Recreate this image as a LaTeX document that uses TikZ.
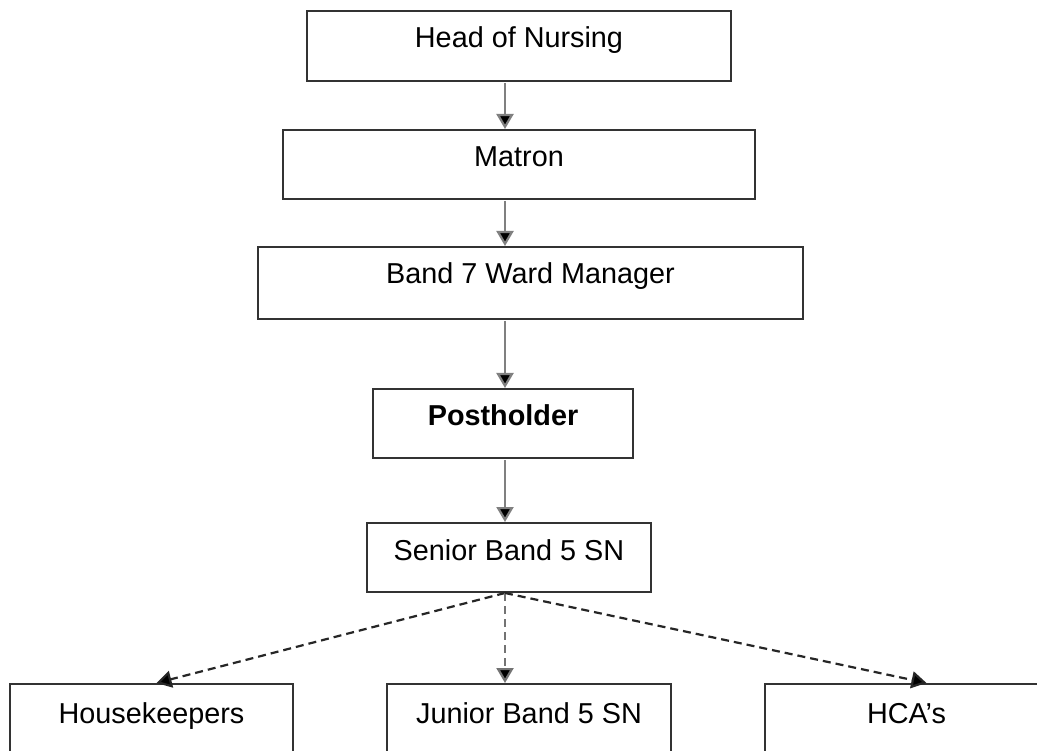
\documentclass[tikz,border=0pt]{standalone}
\usepackage{fontspec}
\setmainfont{Liberation Sans}
\usetikzlibrary{arrows.meta,calc}
\begin{document}
\begin{tikzpicture}[x=1pt,y=-1pt,
  box/.style={draw=black!80, line width=2pt, inner sep=0pt, text height=37pt, text depth=33pt,
    font=\fontsize{28.8}{30}\selectfont, anchor=north},
  tip/.style={-{Triangle[width=17pt,length=15pt,fill=black]}},
  solidarr/.style={draw=black!50, line width=2.2pt, tip, shorten <=1pt},
  dasharr/.style={draw=black!85, line width=2.2pt, dash pattern=on 8pt off 5pt, tip},
  vdasharr/.style={draw=black!55, line width=2.2pt, dash pattern=on 8pt off 5pt, tip}]
\useasboundingbox[fill=white] (0,0) rectangle (1037,751);
\node[box, minimum width=424pt] (head) at (519,10) {Head of Nursing};
\node[box, minimum width=472pt, text depth=32pt] (matron) at (519,129) {Matron};
\node[box, minimum width=545pt, text depth=35pt] (band7) at (530.5,246) {Band 7 Ward Manager};
\node[box, minimum width=260pt, text depth=32pt, font=\fontsize{28.8}{30}\selectfont\bfseries] (post) at (503,388) {Postholder};
\node[box, minimum width=284pt, text depth=32pt] (senior) at (509,522) {Senior Band 5 SN};
\node[box, minimum width=283pt, text height=39pt] (house) at (151.5,683) {Housekeepers};
\node[box, minimum width=284pt, text height=39pt] (junior) at (529,683) {Junior Band 5 SN};
\node[box, minimum width=283pt, text height=39pt] (hca) at (906.5,683) {HCA’s};
\coordinate (ax) at (505,0);
\draw[solidarr] (head.south -| ax) -- (matron.north -| ax);
\draw[solidarr] (matron.south -| ax) -- (band7.north -| ax);
\draw[solidarr] (band7.south -| ax) -- (post.north -| ax);
\draw[solidarr] (post.south -| ax) -- (senior.north -| ax);
\draw[dasharr] (senior.south -| ax) -- ($(house.north)+(5,0)$);
\draw[vdasharr] (senior.south -| ax) -- (junior.north -| ax);
\draw[dasharr] (senior.south -| ax) -- ($(hca.north)+(20,0)$);
\end{tikzpicture}
\end{document}
